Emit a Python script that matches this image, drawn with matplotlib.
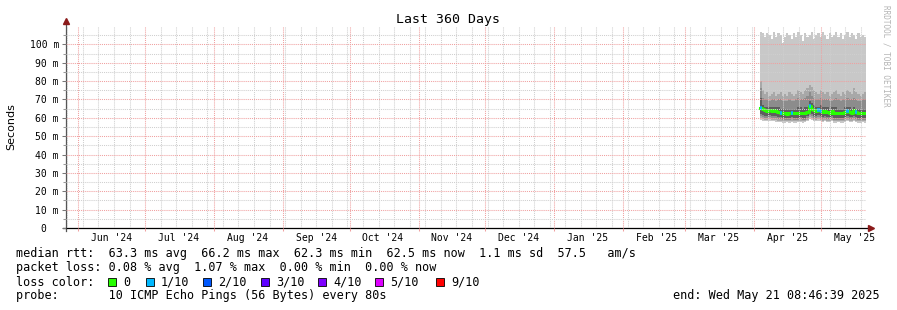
import numpy as np
import pandas as pd
import matplotlib
matplotlib.use("Agg")
import matplotlib.pyplot as plt
import matplotlib.dates as mdates
from matplotlib.patches import Rectangle

plt.rcParams['font.family'] = ['DejaVu Sans Mono', 'DejaVu Sans']

# time range of the graph
start = pd.Timestamp("2024-05-26 08:46:39")
end = pd.Timestamp("2025-05-21 08:46:39")
# one step per day, data only present for the last 48 days
edges = pd.date_range("2025-04-03 08:46:39", end, freq="D")

# sorted ping layers (ms), 48 daily values each
ping_max = [107, 106, 104, 106, 105, 103, 107, 104, 106, 105, 101, 104, 106, 105, 103, 106,
            104, 107, 105, 102, 106, 104, 105, 107, 103, 105, 106, 104, 107, 105, 103, 106,
            104, 105, 107, 104, 106, 103, 105, 107, 104, 106, 105, 103, 106, 104, 105, 104]
ping_9 = [80, 75, 73, 74, 72, 73, 74, 72, 73, 74, 72, 73, 72, 74, 73, 72,
          73, 75, 74, 73, 75, 76, 78, 77, 75, 74, 73, 75, 74, 73, 74, 72,
          73, 74, 75, 73, 72, 74, 73, 75, 74, 73, 76, 74, 73, 72, 73, 74]
ping_8 = [76, 71, 70, 70, 69, 70, 70, 69, 70, 70, 69, 69, 69, 70, 69, 69,
          70, 71, 70, 70, 71, 72, 74, 72, 71, 70, 70, 71, 70, 70, 70, 69,
          69, 70, 71, 70, 69, 70, 70, 71, 70, 70, 71, 70, 69, 69, 70, 70]
ping_7 = [71, 67, 66, 66, 66, 66, 66, 66, 66, 65, 65, 65, 65, 65, 65, 65,
          65, 66, 66, 65, 66, 66, 69, 68, 67, 66, 66, 67, 66, 66, 66, 65,
          66, 66, 66, 65, 65, 65, 66, 66, 66, 65, 66, 65, 65, 65, 65, 65]
median = [65.5, 64.8, 64.0, 63.8, 64.2, 63.5, 64.0, 63.6, 63.0, 62.8, 62.5, 62.4, 62.3, 62.6, 62.8, 62.5,
          62.4, 62.6, 62.8, 62.5, 62.7, 63.2, 66.2, 65.0, 64.2, 63.8, 64.5, 63.6, 63.0, 63.9, 63.2, 62.8,
          63.5, 62.6, 62.5, 62.4, 62.6, 62.5, 63.0, 63.8, 63.2, 62.8, 64.0, 63.0, 62.6, 62.8, 62.5, 62.5]
ping_4 = [62, 61.5, 61, 61, 61.5, 61, 61, 61, 60.5, 60.5, 60, 60, 60, 60, 60.5, 60,
          60, 60, 60.5, 60, 60, 61, 63, 62, 61, 61, 61.5, 61, 60.5, 61, 60.5, 60.5,
          61, 60, 60, 60, 60, 60, 60.5, 61, 60.5, 60.5, 61, 60.5, 60, 60, 60, 60]
ping_3 = [61, 60.5, 60, 60, 60.5, 60, 60, 60, 59.5, 59.5, 59, 59, 59, 59, 59.5, 59,
          59, 59, 59.5, 59, 59, 60, 61.5, 61, 60, 60, 60.5, 60, 59.5, 60, 59.5, 59.5,
          60, 59, 59, 59, 59, 59, 59.5, 60, 59.5, 59.5, 60, 59.5, 59, 59, 59, 59]
ping_2 = [60, 59.5, 59, 59, 59.5, 59, 59, 59, 58.5, 58.5, 58, 58, 58, 58, 58.5, 58,
          58, 58, 58.5, 58, 58, 59, 60.5, 60, 59, 59, 59.5, 59, 58.5, 59, 58.5, 58.5,
          59, 58, 58, 58, 58, 58, 58.5, 59, 58.5, 58.5, 59, 58.5, 58, 58, 58, 58]
ping_min = [59, 58.5, 58, 58, 58.5, 58, 58, 57.5, 57.5, 57.5, 57, 57, 57.5, 57, 57.5, 57,
            57, 57.5, 57.5, 57, 57.5, 58, 59.5, 59, 58, 58, 58.5, 58, 57.5, 58, 57.5, 57.5,
            58, 57, 57, 57.5, 57, 57, 57.5, 58, 57.5, 57.5, 58, 57.5, 57, 57, 57.5, 57]
# lost pings out of 10 per step
loss = [1, 0, 0, 0, 0, 0, 0, 0, 0, 1, 0, 0, 0, 0, 1, 0,
        0, 0, 0, 0, 0, 0, 1, 0, 0, 0, 1, 1, 0, 0, 0, 0,
        0, 0, 0, 0, 0, 0, 0, 1, 0, 0, 0, 1, 0, 0, 0, 0]

loss_levels = ["0", "1/10", "2/10", "3/10", "4/10", "5/10", "9/10"]
loss_colors = ["#26ff00", "#00b8ff", "#0059ff", "#5e00ff", "#7e00ff", "#dd00ff", "#ff0000"]
loss_color_by_count = {0: "#26ff00", 1: "#00b8ff", 2: "#0059ff", 3: "#5e00ff",
                       4: "#7e00ff", 5: "#dd00ff", 9: "#ff0000"}

month_starts = pd.date_range("2024-06-01", "2025-05-01", freq="MS")
month_labels = [d.strftime("%b '%y") for d in month_starts]


def closed(v):
    return np.append(v, v[-1])


fig = plt.figure(figsize=(8.97, 3.10), dpi=100)
ax = fig.add_axes([0.0734, 0.2645, 0.8924, 0.6516])

# smoke: pairs of sorted pings, outer pair lightest
bands = [(ping_min, ping_max, "#c8c8c8"),
         (ping_2, ping_9, "#a8a8a8"),
         (ping_3, ping_8, "#8c8c8c"),
         (ping_4, ping_7, "#5e5e5e")]
for lo, hi, col in bands:
    ax.fill_between(edges, closed(lo), closed(hi), step="post", color=col, lw=0)

ax.step(edges, closed(median), where="post", color=loss_color_by_count[0], lw=2.2)
for i, n in enumerate(loss):
    if n > 0:
        ax.hlines(median[i], edges[i], edges[i + 1], color=loss_color_by_count[n], lw=2.6)

ax.set_xlim(start, end)
ax.set_ylim(0, 110)

# grid
ax.xaxis.set_major_locator(mdates.MonthLocator())
ax.xaxis.set_minor_locator(mdates.WeekdayLocator(byweekday=mdates.MO))
ax.xaxis.set_major_formatter(plt.NullFormatter())
ax.set_yticks(np.arange(0, 101, 10))
ax.set_yticks(np.arange(5, 110, 10), minor=True)
ax.set_yticklabels([f"{v} m" if v else "0  " for v in range(0, 101, 10)])
ax.grid(which="minor", color="#cfcfcf", lw=0.75, ls=(0, (1, 1)))
ax.grid(which="major", color="#f0a0a0", lw=0.75, ls=(0, (1, 1)))
ax.set_axisbelow(False)

ax.tick_params(axis="y", which="major", length=3, width=0.75, color="#777777",
               labelsize=7, pad=2)
ax.tick_params(axis="y", which="minor", length=2, width=0.75, color="#999999")
ax.tick_params(axis="x", which="major", length=2, width=0.75, color="#f0a0a0")
ax.tick_params(axis="x", which="minor", length=0)

for s in ax.spines.values():
    s.set_visible(False)
ax.plot([0, 0], [-0.015, 1.02], transform=ax.transAxes, color="#555555", lw=0.9, clip_on=False)
ax.plot([-0.004, 1.006], [0, 0], transform=ax.transAxes, color="black", lw=0.9, clip_on=False)
ax.plot([0], [1.025], marker="^", ms=4, color="#8b1a1a", transform=ax.transAxes, clip_on=False)
ax.plot([1.006], [0], marker=">", ms=4, color="#8b1a1a", transform=ax.transAxes, clip_on=False)

# month labels centred mid month
for d, lab in zip(month_starts, month_labels):
    ax.annotate(lab, xy=(d + pd.Timedelta(days=15), 0), xycoords=("data", "axes fraction"),
                xytext=(0, -7), textcoords="offset points", ha="center", va="center", fontsize=7)

fig.text(0.4994, 0.9387, "Last 360 Days", ha="center", va="center", fontsize=9.5)
fig.text(11 / 897, 1 - 127 / 310, "Seconds", rotation=90, ha="center", va="center",
         fontsize=8, family="DejaVu Sans")
fig.text(886 / 897, 0.985, "RRDTOOL / TOBI OETIKER", rotation=270, ha="center", va="top",
         fontsize=5.5, color="#b4b4b4")

x0 = 16 / 897
fig.text(x0, 1 - 254 / 310,
         "median rtt:  63.3 ms avg  66.2 ms max  62.3 ms min  62.5 ms now  1.1 ms sd  57.5   am/s",
         va="center", fontsize=8.5)
fig.text(x0, 1 - 268 / 310, "packet loss: 0.08 % avg  1.07 % max  0.00 % min  0.00 % now",
         va="center", fontsize=8.5)
fig.text(x0, 1 - 282 / 310, "loss color:", va="center", fontsize=8.5)
fig.text(x0, 1 - 296 / 310, "probe:       10 ICMP Echo Pings (56 Bytes) every 80s",
         va="center", fontsize=8.5)
fig.text(880 / 897, 1 - 296 / 310, "end: Wed May 21 08:46:39 2025", ha="right",
         va="center", fontsize=8.5)

box_x = [108, 146, 203, 261, 318, 375, 436]
for bx, lab, col in zip(box_x, loss_levels, loss_colors):
    fig.patches.append(Rectangle((bx / 897, (310 - 286) / 310), 8 / 897, 8 / 310,
                                 transform=fig.transFigure, facecolor=col,
                                 edgecolor="black", lw=0.6))
    fig.text((bx + 15) / 897, 1 - 282 / 310, lab, va="center", fontsize=8.5)

fig.savefig("out.png", dpi=100, facecolor="white")
